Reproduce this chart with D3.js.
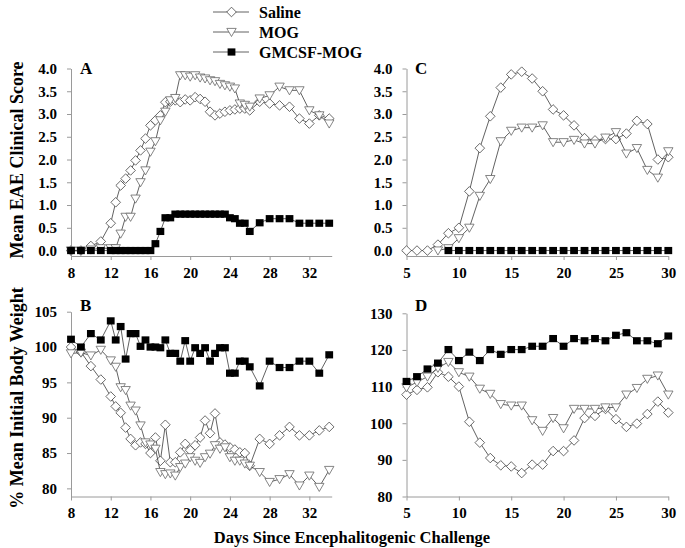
<!DOCTYPE html>
<html><head><meta charset="utf-8">
<script src="https://cdn.jsdelivr.net/npm/d3@7"></script>
<style>
body{margin:0;background:#fff}
svg text{font-family:"Liberation Serif","Times New Roman",serif;font-weight:bold;fill:#000}
</style></head><body>
<svg id="chart" width="685" height="548"></svg>
<script>
// ---------- data ----------
const daysAB = [8,9,10,11,12,12.5,13,13.5,14,14.5,15,15.5,16,16.5,17,17.5,18,18.5,19,19.5,20,20.5,21,21.5,22,22.5,23,23.5,24,24.5,25,25.5,26,27,28,29,30,31,32,33,34];
const salineA = [0,0,0.1,0.2,0.6,1.06,1.43,1.58,1.76,1.98,2.2,2.46,2.75,2.86,2.97,3.26,3.27,3.3,3.26,3.32,3.3,3.37,3.33,3.27,3.05,2.97,3.01,3.05,3.08,3.1,3.12,3.12,3.08,3.27,3.23,3.19,3.16,2.9,2.79,2.97,2.9];
const mogA    = [0,0,0.02,0.05,0.05,0.05,0.37,0.74,0.74,1.14,1.5,1.76,2.17,2.4,2.86,3.05,3.3,3.35,3.85,3.85,3.82,3.85,3.8,3.78,3.74,3.72,3.66,3.63,3.6,3.56,3.23,3.2,3.16,3.34,3.41,3.6,3.52,3.52,3.08,2.97,2.79];
const gmcsfA  = [0,0,0,0,0,0,0,0,0,0,0,0,0,0.15,0.42,0.72,0.72,0.8,0.8,0.8,0.8,0.8,0.8,0.8,0.8,0.8,0.8,0.8,0.72,0.7,0.6,0.6,0.42,0.61,0.7,0.7,0.7,0.6,0.6,0.6,0.6];

const salineB = [100.0,99.3,97.3,95.4,93.0,91.6,90.7,88.6,87.0,86.1,86.5,86.3,85.0,87.2,83.9,89.0,83.7,83.7,85.1,86.3,85.4,86.1,87.2,89.6,87.8,90.6,86.5,86.2,85.8,85.5,85.1,85.0,83.2,87.0,86.3,87.5,88.7,87.5,87.5,88.2,88.7];
const mogB    = [99.1,99.2,98.8,99.6,98.1,97.2,94.3,93.9,91.7,91.0,88.9,86.5,86.2,85.6,82.3,82.0,82.1,81.8,83.0,83.5,84.4,83.9,83.6,84.4,84.9,86.1,85.6,85.8,84.4,83.9,83.9,83.5,83.2,82.3,80.9,81.3,82.0,80.4,81.8,80.2,82.6];
const gmcsfB  = [101.1,100.0,101.9,101.0,103.7,101.0,102.9,98.3,101.9,101.9,100.1,101.0,100.0,100.0,99.9,101.0,99.1,99.1,98.0,100.9,98.0,99.9,99.1,99.9,98.0,99.1,99.9,99.9,96.3,96.3,98.0,98.0,97.2,94.5,98.0,97.1,97.1,98.0,98.0,96.3,98.9];

const daysCD = [5,6,7,8,9,10,11,12,13,14,15,16,17,18,19,20,21,22,23,24,25,26,27,28,29,30];
const salineC = [0,0,0,0.13,0.38,0.5,1.3,2.25,2.95,3.58,3.87,3.93,3.78,3.5,3.1,2.97,2.75,2.47,2.42,2.45,2.45,2.57,2.85,2.78,2.0,2.05];
const mogC    = [null,null,null,0,0.05,0.27,0.5,1.2,1.57,2.4,2.63,2.7,2.7,2.75,2.38,2.38,2.43,2.35,2.35,2.48,2.6,2.13,2.25,1.77,1.6,2.18];
const gmcsfC  = [null,null,null,null,0,0,0,0,0,0,0,0,0,0,0,0,0,0,0,0,0,0,0,0,0,0];

const salineD = [107.8,109.1,109.8,113.9,112.7,110.0,100.4,94.7,90.5,88.5,88.2,86.4,88.7,88.7,92.4,92.4,95.3,101.4,102.0,103.9,101.1,99.0,99.9,102.5,105.9,102.9];
const mogD    = [109.8,111.2,112.7,115.1,116.7,113.9,112.7,109.4,108.0,105.2,104.8,104.8,100.8,97.9,101.4,98.6,103.9,103.9,103.9,104.3,104.3,107.8,109.6,112.1,113.0,107.8];
const gmcsfD  = [111.4,112.7,114.8,116.4,120.1,117.1,119.4,117.1,120.1,118.8,120.1,120.1,121.0,121.0,123.1,121.0,123.1,122.5,123.1,122.5,124.0,124.7,122.5,122.5,121.7,123.8];

const seriesNames = ["Saline","MOG","GMCSF-MOG"];
const ticksXAB = [8,12,16,20,24,28,32];
const ticksXCD = [5,10,15,20,25,30];
const ticksYAC = [0,0.5,1,1.5,2,2.5,3,3.5,4];
const ticksYB = [80,85,90,95,100,105];
const ticksYD = [80,90,100,110,120,130];

// ---------- drawing ----------
const svg = d3.select("#chart");
const LINE = "#3a3a3a";

function marker(g, type, x, y) {
  if (type === 0) {
    const r = 4.8;
    g.append("path").attr("d", `M${x},${y-r}L${x+r},${y}L${x},${y+r}L${x-r},${y}Z`)
      .attr("fill", "#fff").attr("stroke", "#444").attr("stroke-width", 0.8);
  } else if (type === 1) {
    g.append("path").attr("d", `M${x-4.7},${y-3.6}L${x+4.7},${y-3.6}L${x},${y+4.5}Z`)
      .attr("fill", "#fff").attr("stroke", "#666").attr("stroke-width", 0.8);
  } else {
    g.append("rect").attr("x", x-3.9).attr("y", y-3.6).attr("width", 7.8).attr("height", 7.2)
      .attr("fill", "#000");
  }
}

function panel(cfg) {
  const x = d3.scaleLinear().domain(cfg.xd).range(cfg.xr);
  const y = d3.scaleLinear().domain(cfg.yd).range(cfg.yr);
  const g = svg.append("g");
  const ax = g.append("g").attr("transform", `translate(0,${cfg.yr[0]})`)
    .call(d3.axisBottom(x).tickValues(cfg.xt).tickSize(4).tickSizeOuter(0).tickPadding(7));
  const ay = g.append("g").attr("transform", `translate(${cfg.xr[0]},0)`)
    .call(d3.axisLeft(y).tickValues(cfg.yt).tickSize(4).tickSizeOuter(0).tickPadding(10)
      .tickFormat(cfg.fmt));
  [ax, ay].forEach(a => {
    a.selectAll("path,line").attr("stroke", "#9a9a9a").attr("stroke-width", 1);
    a.selectAll("text").style("font-size", "15px").attr("fill", "#000");
  });
  cfg.series.forEach((vals, si) => {
    const pts = cfg.days.map((d, i) => [d, vals[i]]).filter(p => p[1] !== null);
    g.append("path").datum(pts)
      .attr("d", d3.line().x(p => x(p[0])).y(p => y(p[1])))
      .attr("fill", "none").attr("stroke", LINE).attr("stroke-width", 0.8);
    const mg = g.append("g");
    pts.forEach(p => marker(mg, si, x(p[0]), y(p[1])));
  });
  g.append("text").attr("x", cfg.lx).attr("y", cfg.ly).style("font-size", "17px").text(cfg.label);
}

const fmt1 = d3.format(".1f");
const fmt0 = d3.format("d");
panel({label:"A", lx:80, ly:74, days:daysAB, series:[salineA,mogA,gmcsfA],
  xd:[8,34.25], xr:[71,331.7], yd:[-0.12,4], yr:[256,68.5], xt:ticksXAB, yt:ticksYAC, fmt:fmt1});
panel({label:"C", lx:415, ly:74, days:daysCD, series:[salineC,mogC,gmcsfC],
  xd:[5,30], xr:[406.5,668.3], yd:[-0.12,4], yr:[256,68.5], xt:ticksXCD, yt:ticksYAC, fmt:fmt1});
panel({label:"B", lx:80, ly:311, days:daysAB, series:[salineB,mogB,gmcsfB],
  xd:[8,34.25], xr:[71,331.7], yd:[78.85,105], yr:[496.5,311.7], xt:ticksXAB, yt:ticksYB, fmt:fmt0});
panel({label:"D", lx:415, ly:311, days:daysCD, series:[salineD,mogD,gmcsfD],
  xd:[5,30], xr:[406.5,668.3], yd:[80,130], yr:[496.5,313.3], xt:ticksXCD, yt:ticksYD, fmt:fmt0});

// legend
const legY = [12, 32, 52];
seriesNames.forEach((n, i) => {
  const lg = svg.append("g");
  lg.append("line").attr("x1", 213).attr("x2", 249).attr("y1", legY[i]).attr("y2", legY[i])
    .attr("stroke", LINE).attr("stroke-width", 0.8);
  marker(lg, i, 231.5, legY[i]);
  lg.append("text").attr("x", 259).attr("y", legY[i]).attr("dy", "0.35em")
    .style("font-size", "16px").text(n);
});

// axis titles
svg.append("text").attr("transform", "translate(23,160) rotate(-90)").attr("text-anchor", "middle")
  .style("font-size", "18px").text("Mean EAE Clinical Score");
svg.append("text").attr("transform", "translate(23,398) rotate(-90)").attr("text-anchor", "middle")
  .style("font-size", "18px").text("% Mean Initial Body Weight");
svg.append("text").attr("x", 352).attr("y", 543).attr("text-anchor", "middle")
  .style("font-size", "16.5px").text("Days Since Encephalitogenic Challenge");
</script>
</body></html>
